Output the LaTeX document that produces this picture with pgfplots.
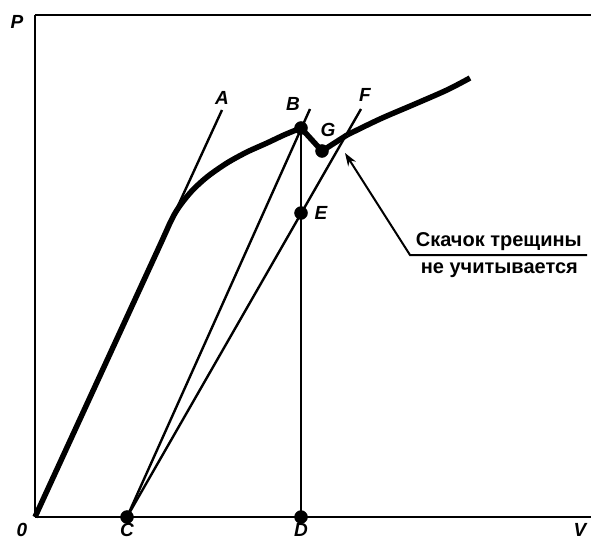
\documentclass[border=0pt]{standalone}
\usepackage{pgfplots}
\pgfplotsset{compat=1.18}
\usetikzlibrary{arrows.meta}
\usepackage{fontspec}
\setmainfont{Liberation Sans}

\tikzset{
    lbl/.style={font=\fontsize{19}{20}\selectfont\bfseries\itshape, inner sep=0pt},
    note/.style={font=\fontsize{20}{22}\selectfont\bfseries, inner sep=0pt},
}

\begin{document}
\begin{tikzpicture}
\begin{axis}[
    x=1pt, y=1pt,
    xmin=0, xmax=556, ymin=0, ymax=502,
    axis x line=box, axis y line=left,
    axis line style={-, line width=2.5pt},
    ticks=none,
    clip=false,
]
% load--displacement curve
\addplot[line width=5.5pt, smooth, tension=0.5] coordinates {
    (0,0) (120,261) (139,302) (155,324) (172,340) (192,354) (212,365)
    (232,374) (249,382) (266,389)};
\addplot[line width=5.5pt] coordinates {(266,389) (287,366) (312,382)};
\addplot[line width=5.5pt, smooth] coordinates {
    (312,382) (345,398) (380,413) (412,427) (435,439)};

% construction lines
\addplot[line width=2.4pt] coordinates {(0,0) (187,407)};
\addplot[line width=2.4pt] coordinates {(92,0) (275,408)};
\addplot[line width=2.4pt] coordinates {(92,0) (326,408)};
\addplot[line width=2.4pt] coordinates {(266,0) (266,389)};

% points
\addplot[only marks, mark=*, mark size=6.5pt] coordinates {
    (92,0) (266,0) (266,389) (287,366) (266,304)};

% annotation leader
\addplot[line width=2pt, -{Stealth[length=13pt, width=9pt]}] coordinates {
    (552,262) (375,262) (310,364)};

\node[lbl] at (axis cs:187,419) {A};
\node[lbl] at (axis cs:258,413) {B};
\node[lbl] at (axis cs:330,422) {F};
\node[lbl] at (axis cs:293,387) {G};
\node[lbl] at (axis cs:286,304) {E};
\node[lbl] at (axis cs:-18,495) {P};
\node[lbl] at (axis cs:-13,-13) {0};
\node[lbl] at (axis cs:92,-13) {C};
\node[lbl] at (axis cs:266,-13) {D};
\node[lbl] at (axis cs:545,-13) {V};
\node[note, anchor=base east] at (axis cs:547,271) {Скачок трещины};
\node[note, anchor=base east] at (axis cs:543,244) {не учитывается};

\coordinate (bl) at (axis cs:-35,-25);
\coordinate (tr) at (axis cs:556,517);
\end{axis}
\pgfresetboundingbox
\path[use as bounding box] (bl) rectangle (tr);
\end{tikzpicture}
\end{document}
